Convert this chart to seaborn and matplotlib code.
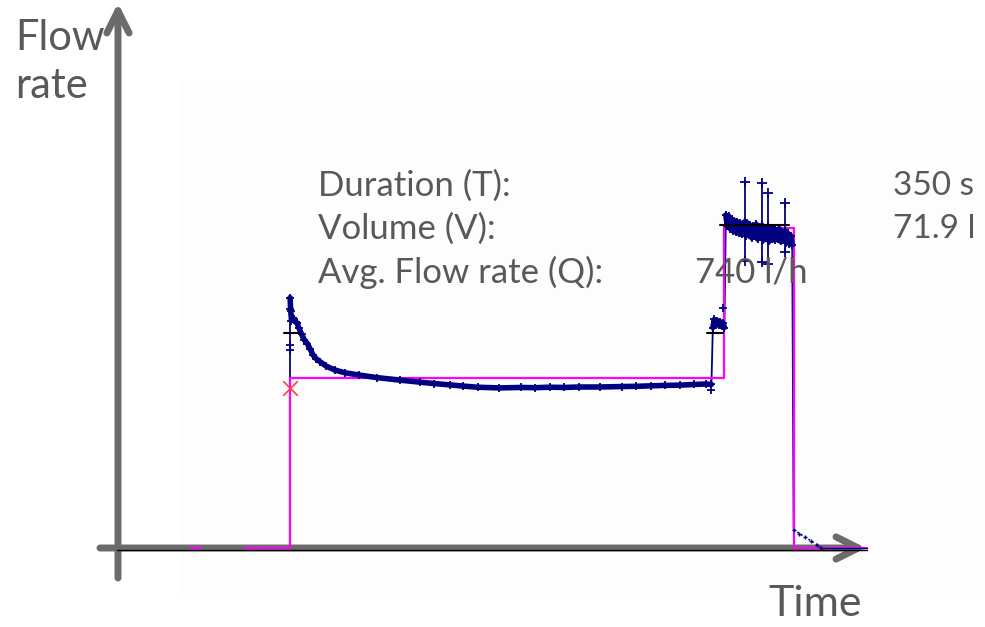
import numpy as np
import pandas as pd
import seaborn as sns
import matplotlib.pyplot as plt

# measured flow trace (time in s, flow in l/h), split where the meter jumps
decay_t = [0, 0.5, 1, 2, 3, 4, 5, 6, 8, 10, 12, 14, 16, 18, 21, 25, 31, 38, 48, 60, 76,
           90, 100, 111, 120, 130, 145, 160, 170, 180, 190, 200, 215, 230, 240, 250, 260,
           270, 280, 288, 292]
decay_q = [1090, 1030, 990, 1000, 995, 985, 978, 960, 930, 905, 890, 865, 840, 825, 810,
           792, 775, 763, 753, 742, 731, 722, 716, 710, 705, 700, 697, 699, 698, 700, 699,
           701, 701, 703, 704, 706, 708, 709, 712, 714, 712]
mid_t = [293, 294, 295, 296, 297, 298, 299, 300, 301]
mid_q = [960, 995, 975, 990, 970, 985, 965, 980, 960]
high_t = [302, 303, 304, 305, 306, 307, 308, 309, 310, 311, 312, 313, 314, 315, 316, 317,
          318, 319, 320, 321, 322, 323, 324, 325, 326, 327, 328, 329, 330, 331, 332, 333,
          334, 335, 336, 337, 338, 339, 340, 341, 342, 343, 344, 345, 346, 347, 348]
high_q = [1450, 1400, 1445, 1390, 1430, 1380, 1425, 1375, 1420, 1370, 1415, 1365, 1410,
          1420, 1360, 1415, 1370, 1405, 1350, 1400, 1360, 1410, 1345, 1395, 1355, 1405,
          1340, 1390, 1350, 1400, 1335, 1385, 1345, 1395, 1340, 1380, 1345, 1390, 1335,
          1375, 1340, 1380, 1330, 1370, 1325, 1360, 1320]

# jumps between levels (thin)
jump_t = [0, 0, 292, 293, 301, 302, 348, 349]
jump_q = [0, 1090, 710, 960, 960, 1440, 1320, 80]
tail_t = [349, 353, 357, 361, 365, 368]
tail_q = [80, 63, 47, 31, 15, 0]

# isolated readings (spikes)
spike_t = [315, 327, 331, 343]
spike_hi = [1595, 1590, 1545, 1500]
spike_lo = [1250, 1245, 1235, 1290]
extra_t = [0, 0, 0, 300, 292]
extra_q = [860, 885, 1040, 1045, 690]

# averaged step curve
step_t = [-69, -62, None, -31, 0, 0, 301, 301, 349, 349, 400]
step_q = [0, 0, None, 0, 0, 740, 740, 1395, 1395, 0, 0]

# short average markers
avg_segments = [((-4, 7), 935), ((289, 300), 936), ((298, 346), 1406)]
start_t, start_q = [0], [697]

labels = ["Duration (T):", "Volume (V):", "Avg. Flow rate (Q):"]
values = ["350 s", "71.9 l", "740 l/h"]

sns.set_theme(style="white")
plt.rcParams["font.family"] = ["Lato", "DejaVu Sans"]

navy = "#000080"
fig = plt.figure(figsize=(9.85, 6.27), dpi=100)
fig.patch.set_facecolor("white")
ax = fig.add_axes([0, 0, 1, 1])
ax.set_xlim(-201, 481.6)
ax.set_ylim(-344, 2386)
ax.axis("off")

# faint plot area background
ax.axvspan(-76, 481.6, ymin=0.05, ymax=0.87, color="#fdfdfd", zorder=0)

# zero line
ax.plot([-120, 400], [-8, -8], color="black", lw=1, zorder=2)

# thin jumps first, step curve over them
for i in range(0, len(jump_t), 2):
    ax.plot(jump_t[i:i + 2], jump_q[i:i + 2], color=navy, lw=1.3, zorder=3)
ax.plot(step_t, step_q, color="#ff00ff", lw=1.6, zorder=3.5)
ax.plot(tail_t, tail_q, color=navy, lw=1.2, ls=":", marker="+", ms=3, zorder=4)
ax.plot([368, 400], [0, 0], color=navy, lw=1.0, zorder=4)

seg = pd.DataFrame({
    "t": decay_t + mid_t + high_t,
    "q": decay_q + mid_q + high_q,
    "part": ["a"] * len(decay_t) + ["b"] * len(mid_t) + ["c"] * len(high_t),
})
sns.lineplot(data=seg, x="t", y="q", units="part", estimator=None, sort=False, ax=ax,
             color=navy, lw=4, marker="+", markersize=6, mew=1.3,
             markeredgecolor=navy, zorder=4)

ax.vlines(spike_t, spike_lo, spike_hi, color=navy, lw=1.3, zorder=4)
ax.scatter(spike_t * 2, spike_hi + spike_lo, marker="+", s=45, color=navy, lw=1.3, zorder=5)
ax.scatter(extra_t, extra_q, marker="+", s=40, color=navy, lw=1.3, zorder=5)

for (a, b), q in avg_segments:
    ax.plot([a, b], [q, q], color="black", lw=1.5, zorder=5)

ax.scatter(start_t, start_q, marker="x", s=110, color="#ff4040", lw=1.2, zorder=6)

# axis arrows
gray = "#6b6b6b"
ax.annotate("", xy=(866 / 985, 1 - 548 / 627), xytext=(100 / 985, 1 - 548 / 627),
            xycoords="figure fraction", textcoords="figure fraction",
            arrowprops=dict(arrowstyle="->", lw=5, color=gray, mutation_scale=40,
                            shrinkA=0, shrinkB=0), zorder=1)
ax.annotate("", xy=(118 / 985, 1 - 3 / 627), xytext=(118 / 985, 1 - 578 / 627),
            xycoords="figure fraction", textcoords="figure fraction",
            arrowprops=dict(arrowstyle="->", lw=5, color=gray, mutation_scale=40,
                            shrinkA=0, shrinkB=0), zorder=1)

txt = "#595959"
fig.text(15 / 985, 1 - 62 / 627, "Flow\nrate", fontsize=30, color=txt, va="center",
         linespacing=1.35)
fig.text(862 / 985, 1 - 604 / 627, "Time", fontsize=31, color=txt, ha="right", va="center")

rows = [186, 229, 272]
for lab, y in zip(labels, rows):
    fig.text(318 / 985, 1 - y / 627, lab, fontsize=25, color=txt, va="center")
fig.text(893 / 985, 1 - rows[0] / 627, values[0], fontsize=24, color=txt, va="center")
fig.text(893 / 985, 1 - rows[1] / 627, values[1], fontsize=24, color=txt, va="center")
fig.text(695 / 985, 1 - rows[2] / 627, values[2], fontsize=25, color=txt, va="center")

fig.savefig("out.png", dpi=100)
